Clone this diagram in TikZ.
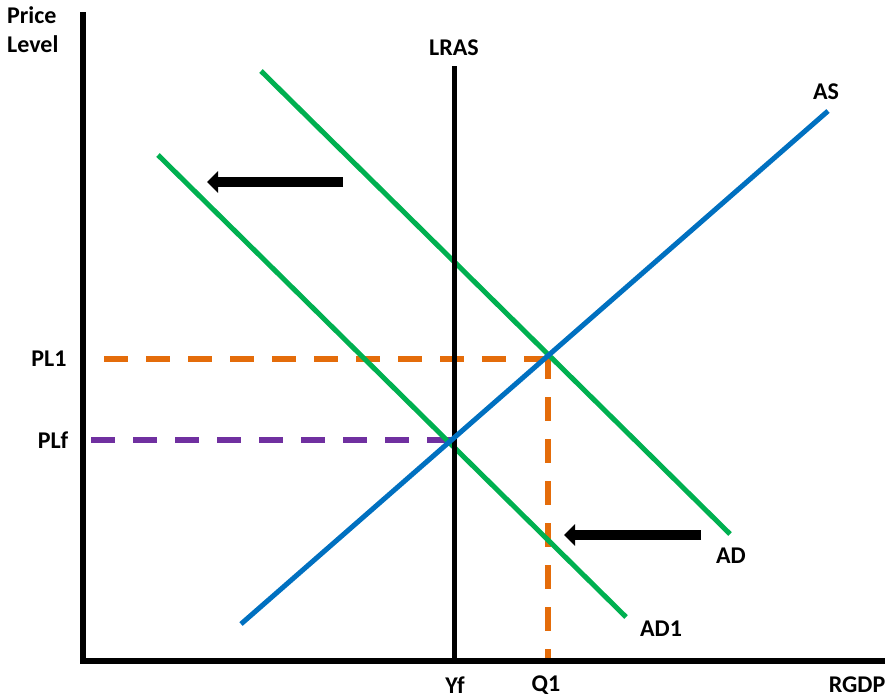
\documentclass[tikz,border=0pt]{standalone}
\usepackage{fontspec}
\setmainfont{Carlito}
\usetikzlibrary{arrows.meta}
\definecolor{asblue}{HTML}{0070C0}
\definecolor{adgreen}{HTML}{00B050}
\definecolor{plorange}{HTML}{E46C0A}
\definecolor{plpurple}{HTML}{7030A0}
\tikzset{
  lbl/.style={font=\fontsize{24}{29}\selectfont\bfseries, inner sep=0pt},
  axis/.style={line width=6pt, black},
  curve/.style={line width=5pt},
  dsh/.style={line width=6pt, dash pattern=on 24pt off 18pt},
  shiftarrow/.style={line width=10pt, -{Triangle[length=11pt,width=21pt]}}
}
\begin{document}
\begin{tikzpicture}[x=1pt,y=-1pt]
\useasboundingbox (0,0) rectangle (894,699);
% coordinates
\coordinate (ytop) at (83,12);
\coordinate (orig) at (83,661);
\coordinate (xend) at (885,661);
\coordinate (lrastop) at (454,66);
\coordinate (lrasbot) at (454,661);
\coordinate (as1) at (241,624);
\coordinate (as2) at (828,111);
\coordinate (ad1) at (261,71);
\coordinate (ad2) at (730,534);
\coordinate (adb1) at (158,155);
\coordinate (adb2) at (626,617);
\coordinate (e1) at (548,359);
\coordinate (e1top) at (548,355);
\coordinate (pl1ax) at (84,359);
\coordinate (q1ax) at (548,661);
\coordinate (e0) at (454,440);
\coordinate (plfax) at (91,440);
\coordinate (ar1s) at (343,182);
\coordinate (ar1e) at (207,182);
\coordinate (ar2s) at (701,535);
\coordinate (ar2e) at (564,535);
% dashed guides
\draw[dsh, plorange, dash phase=22pt] (pl1ax) -- (e1);
\draw[dsh, plorange] (e1top) -- (q1ax);
\draw[dsh, plpurple] (plfax) -- (e0);
% curves
\draw[curve, adgreen] (ad1) -- (ad2);
\draw[curve, adgreen] (adb1) -- (adb2);
\draw[curve, black] (lrastop) -- (lrasbot);
\draw[curve, asblue] (as1) -- (as2);
% axes
\draw[axis] (ytop) -- (orig) -- (xend);
% arrows
\draw[shiftarrow] (ar1s) -- (ar1e);
\draw[shiftarrow] (ar2s) -- (ar2e);
% labels
\node[lbl, align=left, anchor=north west] (pl) at (7,6) {Price\\Level};
\node[lbl] (lras) at (454,48) {LRAS};
\node[lbl] (aslbl) at (826,92) {AS};
\node[lbl] (adlbl) at (731,556) {AD};
\node[lbl] (ad1lbl) at (661,629) {AD1};
\node[lbl] (pl1lbl) at (49,359) {PL1};
\node[lbl] (plflbl) at (53,440) {PLf};
\node[lbl] (yflbl) at (455,685) {Yf};
\node[lbl] (q1lbl) at (546,685) {Q1};
\node[lbl] (rgdplbl) at (857,685) {RGDP};
\end{tikzpicture}
\end{document}
